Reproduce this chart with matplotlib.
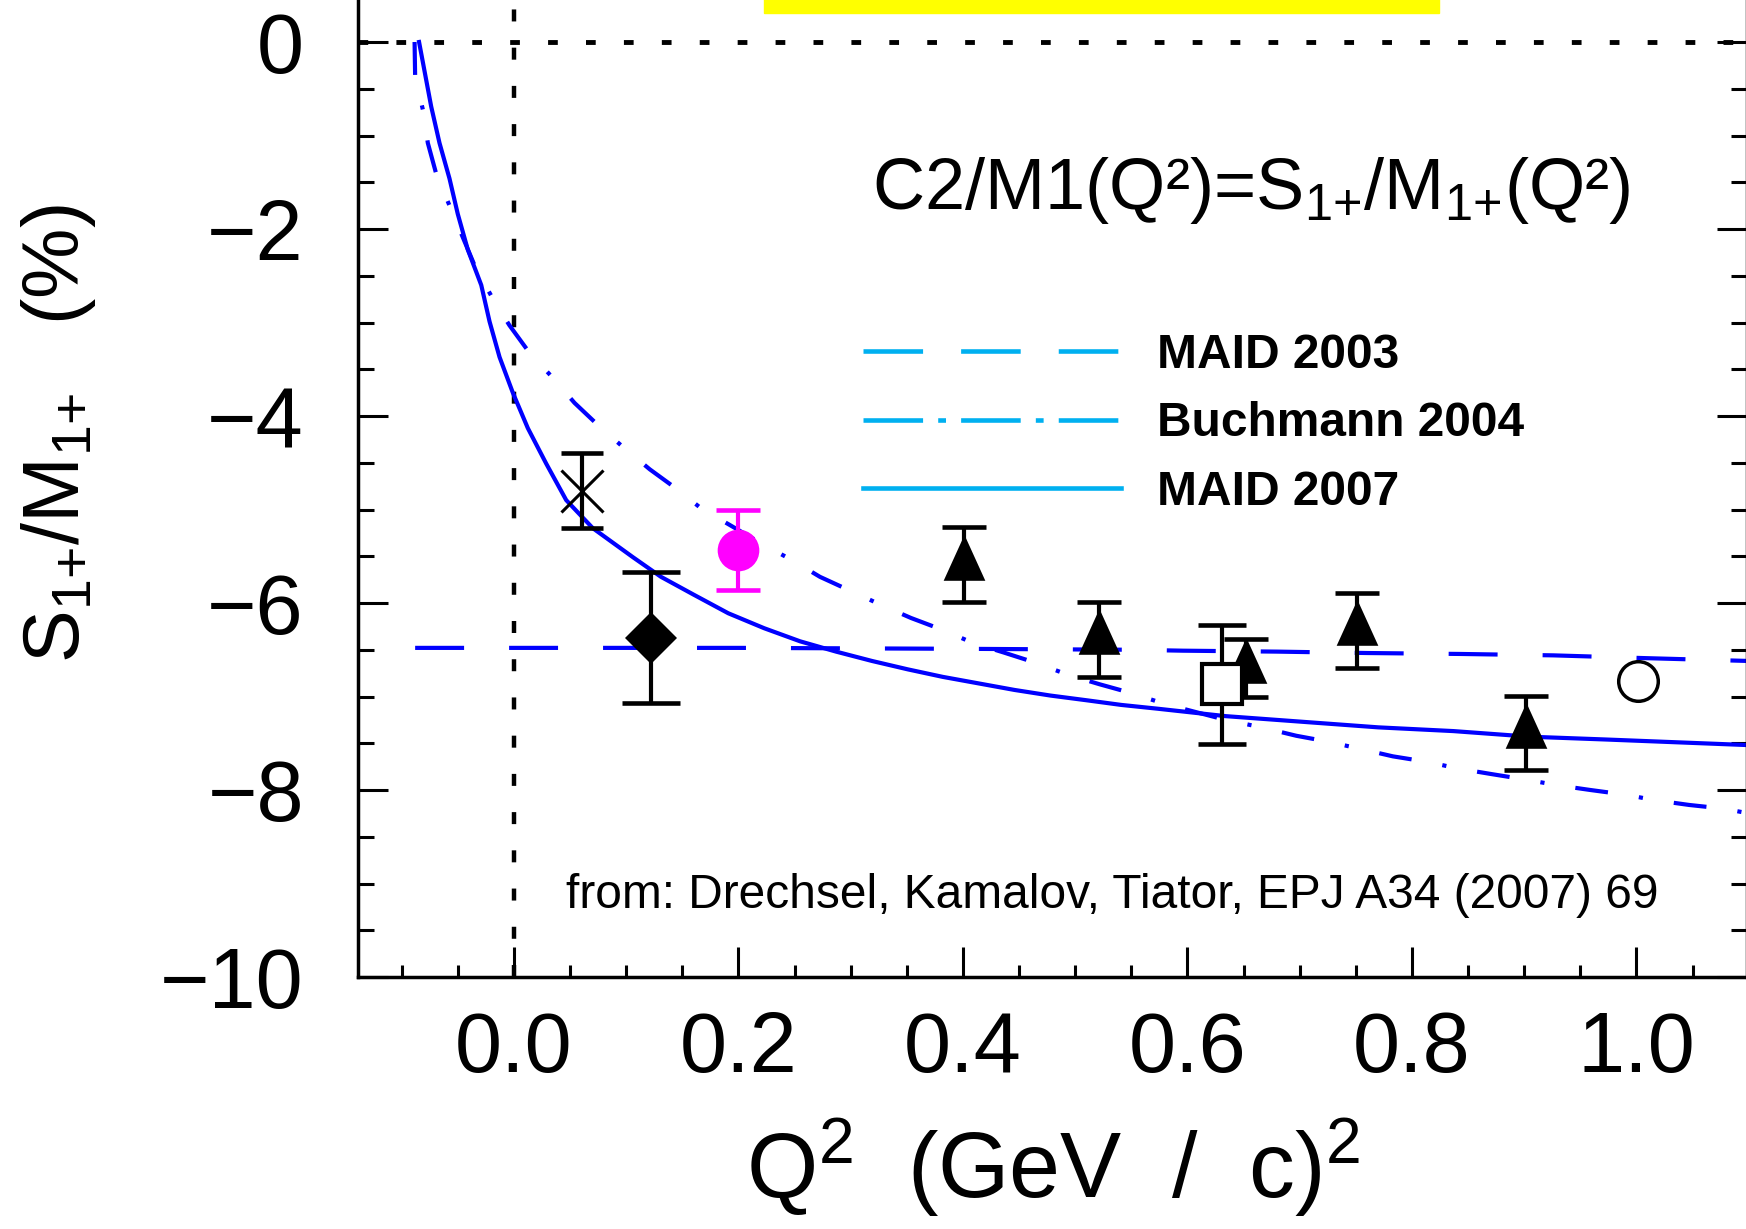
import matplotlib
matplotlib.use('Agg')
import matplotlib.pyplot as plt
from matplotlib.lines import Line2D
from matplotlib.patches import Rectangle
from matplotlib.path import Path
from matplotlib.ticker import MultipleLocator

plt.rcParams['font.family'] = ['Liberation Sans', 'DejaVu Sans']
plt.rcParams['mathtext.fontset'] = 'custom'
plt.rcParams['mathtext.rm'] = 'Liberation Sans'
plt.rcParams['mathtext.it'] = 'Liberation Sans:italic'
plt.rcParams['mathtext.bf'] = 'Liberation Sans:bold'

# Krzywe teoretyczne
q2_maid03 = [-0.088, 0.2, 0.4, 0.55, 0.596, 0.68, 0.76, 0.843, 0.926, 1.009, 1.1]
r_maid03 = [-6.48, -6.48, -6.49, -6.50, -6.51, -6.52, -6.535, -6.545, -6.56, -6.59, -6.62]

q2_buch = [-0.0885, -0.088, -0.081, -0.0767, -0.069, -0.057, -0.034, -0.019, -0.004, 0.0124,
           0.036, 0.054, 0.076, 0.098, 0.121, 0.145, 0.167, 0.1915, 0.220, 0.249,
           0.2726, 0.298, 0.327, 0.3537, 0.3824, 0.4095, 0.4365, 0.465, 0.494, 0.522,
           0.549, 0.580, 0.634, 0.666, 0.697, 0.724, 0.754, 0.783, 0.814, 0.841,
           0.871, 0.902, 0.930, 0.959, 0.990, 1.017, 1.047, 1.078, 1.1]
r_buch = [0.0, -0.37, -0.73, -1.08, -1.42, -1.76, -2.42, -2.74, -3.03, -3.30,
          -3.61, -3.86, -4.11, -4.34, -4.57, -4.78, -4.99, -5.16, -5.36, -5.55,
          -5.72, -5.86, -6.02, -6.16, -6.29, -6.43, -6.53, -6.64, -6.77, -6.87,
          -6.96, -7.08, -7.25, -7.33, -7.42, -7.48, -7.56, -7.64, -7.70, -7.77,
          -7.83, -7.89, -7.95, -8.00, -8.05, -8.11, -8.16, -8.20, -8.25]

q2_maid07 = [-0.0845, -0.0737, -0.0663, -0.0574, -0.0500, -0.0411, -0.0291, -0.0217, -0.0128, -0.0010,
             0.0124, 0.0288, 0.0466, 0.0703, 0.106, 0.131, 0.160, 0.191, 0.223, 0.255,
             0.287, 0.319, 0.351, 0.382, 0.414, 0.446, 0.478, 0.510, 0.541, 0.573,
             0.611, 0.634, 0.702, 0.770, 0.837, 0.905, 0.973, 1.1]
r_maid07 = [0.0, -0.69, -1.08, -1.46, -1.84, -2.22, -2.60, -2.99, -3.37, -3.75,
            -4.13, -4.51, -4.90, -5.20, -5.51, -5.72, -5.91, -6.11, -6.27, -6.41,
            -6.52, -6.62, -6.71, -6.79, -6.86, -6.93, -6.99, -7.04, -7.09, -7.13,
            -7.18, -7.21, -7.27, -7.33, -7.37, -7.43, -7.46, -7.52]

# Punkty pomiarowe
q2_cross, r_cross, e_cross = [0.061], [-4.80], [0.40]
q2_diam, r_diam, e_diam = [0.122], [-6.37], [0.70]
q2_mag, r_mag, e_mag = [0.200], [-5.43], [0.43]
q2_tri = [0.401, 0.521, 0.652, 0.751, 0.902]
r_tri = [-5.59, -6.39, -6.69, -6.29, -7.39]
e_tri = [0.40, 0.40, 0.31, 0.40, 0.40]
q2_sq, r_sq, e_sq = [0.631], [-6.87], [0.64]
q2_circ, r_circ = [1.001], [-6.83]

xticks = [0.0, 0.2, 0.4, 0.6, 0.8, 1.0]
xtick_labels = ['0.0', '0.2', '0.4', '0.6', '0.8', '1.0']
yticks = [0, -2, -4, -6, -8, -10]
ytick_labels = ['0', '\u22122', '\u22124', '\u22126', '\u22128', '\u221210']

legend_labels = ['MAID 2003', 'Buchmann 2004', 'MAID 2007']

W, H = 1746, 1229
fig = plt.figure(figsize=(W / 100, H / 100), dpi=100)
ax = fig.add_axes([358 / W, (H - 977) / H, (1747 - 358) / W, (977 + 4.75) / H])
ax.set_xlim(-0.1389, 1.0985)
ax.set_ylim(-10, 0.5)

blue = '#0000ff'
cyan = '#00b0f0'

# linie kropkowane osi zerowych
ax.axhline(0, color='black', lw=3.5, dashes=(2.0, 5.8), zorder=1)
ax.axvline(0, color='black', lw=3.2, dashes=(2.7, 5.9), zorder=1)

ax.plot(q2_maid03, r_maid03, color=blue, lw=3, dashes=(11.75, 10.8), zorder=2)
ax.plot(q2_buch, r_buch, color=blue, lw=3, dashes=(7.9, 7.5, 1.0, 7.5), zorder=2)
ax.plot(q2_maid07, r_maid07, color=blue, lw=3, zorder=2)

# trojkat wycentrowany w srodku ciezkosci
tri = Path([(0, 0.733), (-0.5, -0.367), (0.5, -0.367), (0, 0.733)],
           [Path.MOVETO, Path.LINETO, Path.LINETO, Path.CLOSEPOLY])

eb = dict(fmt='none', ecolor='black', elinewidth=3, capthick=3.3, zorder=3)
ax.errorbar(q2_cross, r_cross, yerr=e_cross, capsize=15, **eb)
ax.errorbar(q2_diam, r_diam, yerr=e_diam, capsize=21, **eb)
ax.errorbar(q2_tri, r_tri, yerr=e_tri, capsize=16, **eb)
ax.errorbar(q2_sq, r_sq, yerr=e_sq, capsize=17, **eb)
eb['ecolor'] = '#ff00ff'
ax.errorbar(q2_mag, r_mag, yerr=e_mag, capsize=16, **eb)

ax.plot(q2_cross, r_cross, 'x', color='black', ms=30, mew=2.2, zorder=4)
ax.plot(q2_diam, r_diam, 'D', color='black', ms=26, mew=0, zorder=4)
ax.plot(q2_mag, r_mag, 'o', color='#ff00ff', ms=30, mew=0, zorder=4)
ax.plot(q2_tri, r_tri, linestyle='none', marker=tri, color='black', ms=44, mew=0, zorder=4)
ax.plot(q2_sq, r_sq, 's', mfc='white', mec='black', ms=29.5, mew=3, zorder=4)
ax.plot(q2_circ, r_circ, 'o', mfc='white', mec='black', ms=28.5, mew=2.5, zorder=4)

# osie
ax.spines['top'].set_visible(False)
for s in ['left', 'bottom', 'right']:
    ax.spines[s].set_linewidth(2.5)
ax.set_xticks(xticks)
ax.set_xticklabels(xtick_labels)
ax.set_yticks(yticks)
ax.set_yticklabels(ytick_labels)
ax.xaxis.set_minor_locator(MultipleLocator(0.05))
ax.yaxis.set_minor_locator(MultipleLocator(0.5))
ax.tick_params(which='both', direction='in', top=False, right=True, width=2.2)
ax.tick_params(which='major', length=21.6, labelsize=61)
ax.tick_params(axis='x', which='minor', length=8.8)
ax.tick_params(axis='y', which='minor', length=11.2)
ax.tick_params(axis='x', which='major', pad=24)
ax.tick_params(axis='y', which='major', pad=39)

ax.set_xlabel('Q$^{\\mathregular{2}}$  (GeV  /  c)$^{\\mathregular{2}}$', fontsize=66)
ax.xaxis.set_label_coords(0.5, -0.1416)
ax.set_ylabel('S$_{\\mathregular{1{+}}}$/M$_{\\mathregular{1{+}}}$   (%)', fontsize=57)
ax.yaxis.set_label_coords(-0.187, 0.553)

# legenda
uchwyty = [
    Line2D([], [], color=cyan, lw=3.3, dashes=(13, 8.3)),
    Line2D([], [], color=cyan, lw=3.3, dashes=(13, 3.3, 1.7, 3.3)),
    Line2D([], [], color=cyan, lw=3.3),
]
ax.legend(uchwyty, legend_labels, loc='upper left',
          bbox_to_anchor=(863 / W, 1 - 333 / H), bbox_transform=fig.transFigure,
          frameon=False, borderpad=0, borderaxespad=0, handlelength=5.38,
          handletextpad=0.75, labelspacing=0.49,
          prop={'family': 'Liberation Sans', 'weight': 'bold', 'size': 34.5})

fig.text(872 / W, 1 - 209 / H,
         'C2/M1(Q\u00b2)=S$_{\\mathregular{1{+}}}$/M$_{\\mathregular{1{+}}}$(Q\u00b2)',
         fontsize=52, va='baseline', ha='left')
fig.text(566 / W, 1 - 908 / H, 'from: Drechsel, Kamalov, Tiator, EPJ A34 (2007) 69',
         fontsize=34.5, va='baseline', ha='left')

# zolty pasek u gory
fig.add_artist(Rectangle((764 / W, 1 - 13 / H), (1439 - 764) / W, 0.05,
                         transform=fig.transFigure, color='#ffff00', zorder=5))

fig.savefig('out.png', dpi=100)
